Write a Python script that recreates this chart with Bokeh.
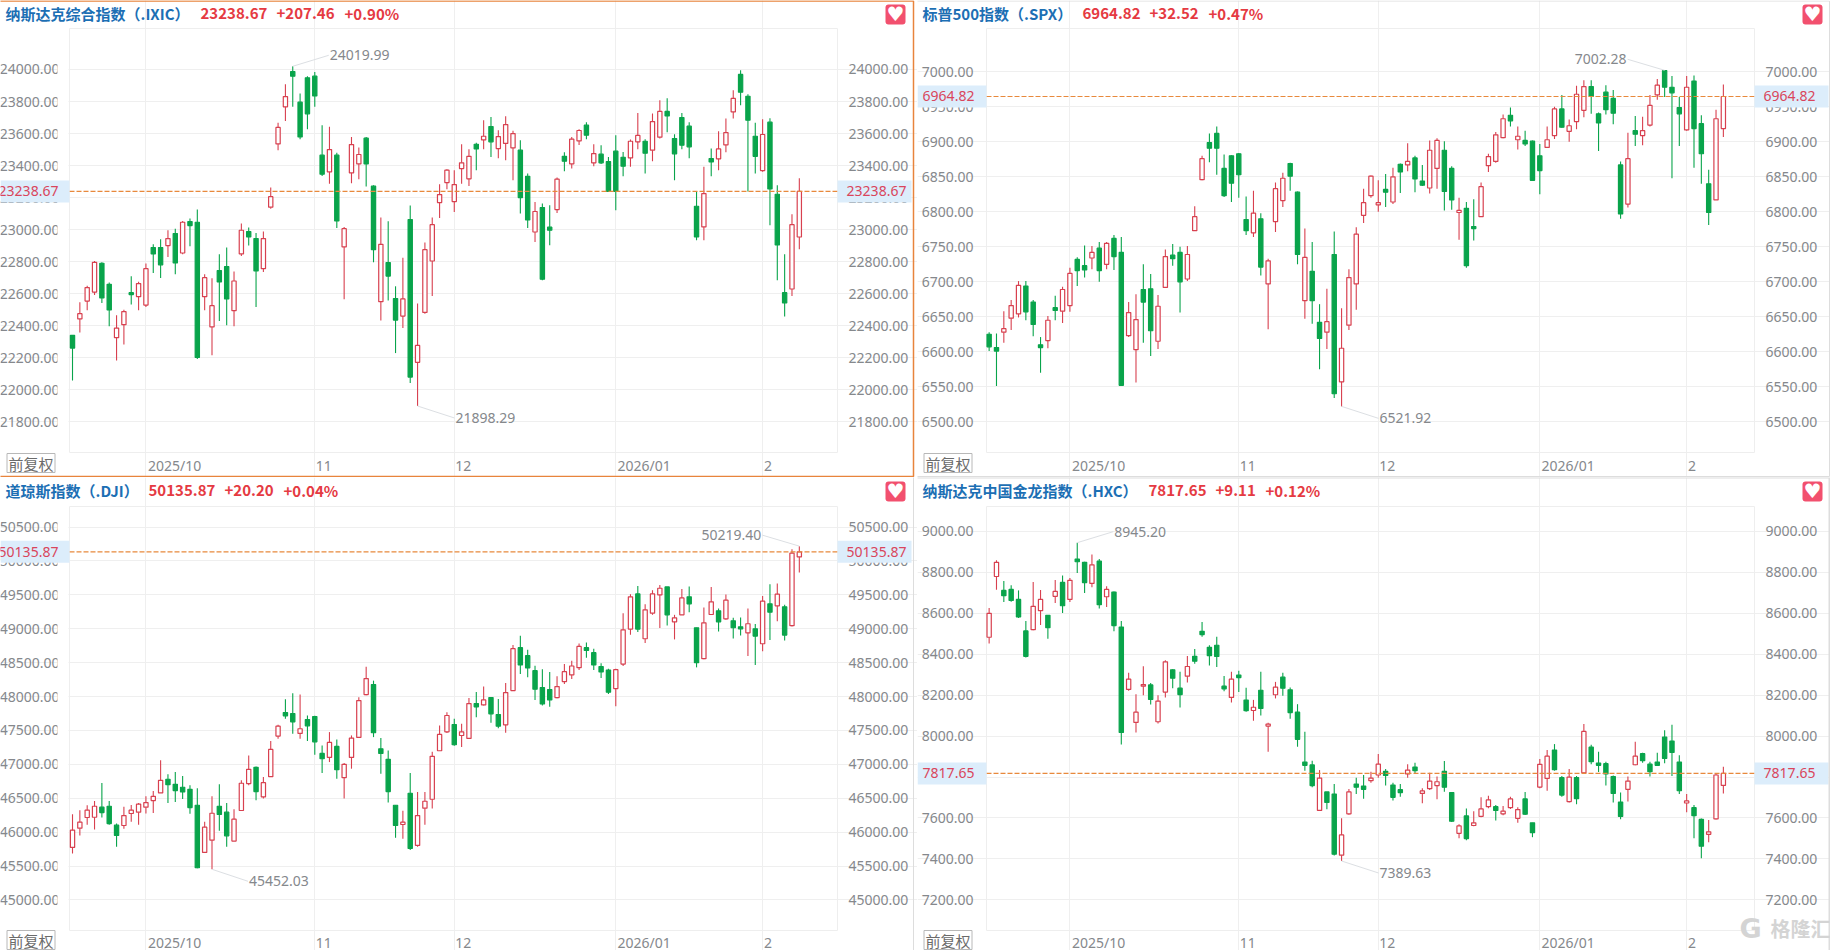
from bokeh.core.properties import value
from bokeh.embed import file_html
from bokeh.resources import INLINE
from bokeh.layouts import column, row
from bokeh.models import (BoxAnnotation, ColumnDataSource, FixedTicker, Label, LinearAxis,
                          PrintfTickFormatter, Range1d)
from bokeh.plotting import figure

# ---------- IXIC ----------
ixic_open = [22340,22442,22554,22610,22790,22658,22325,22406,22606,22581,
22529,22888,22888,22900,22975,22854,23050,23046,22581,22392,
22744,22769,22494,22848,22988,22944,22756,23140,23535,23767,
23987,23796,23948,23958,23465,23360,23465,22892,23354,23410,
23571,23271,22550,22794,22569,22460,23063,22171,22483,22804,
23169,23294,23175,23381,23317,23533,23560,23644,23506,23538,
23510,23496,23333,22985,23138,23015,23125,23458,23410,23554,
23652,23417,23471,23425,23490,23452,23448,23548,23552,23496,
23577,23738,23569,23700,23646,23146,23017,23444,23442,23529,
23735,23969,23833,23583,23369,23671,23221,22606,22629,22954]
ixic_close = [22260,22475,22638,22796,22573,22498,22385,22488,22594,22663,
22756,22848,22780,22944,22792,23046,23025,22202,22700,22525,
22673,22567,22679,22996,22954,22742,22944,23206,23638,23831,
23958,23579,23723,23835,23346,23500,23054,23006,23531,23469,
23410,22875,22908,22710,22435,22567,22079,22277,22875,23031,
23219,23371,23281,23417,23458,23504,23583,23548,23581,23656,
23600,23200,23060,23113,22690,22996,23315,23427,23565,23619,
23590,23475,23417,23238,23238,23396,23552,23588,23477,23675,
23738,23710,23473,23527,23517,22954,23225,23423,23504,23606,
23819,23858,23683,23458,23594,23254,22904,22542,23031,23238.67]
ixic_high = [22342,22546,22650,22804,22796,22670,22465,22500,22708,22675,
22788,22908,22940,22996,23006,23054,23069,23125,22721,22696,
22846,22888,22738,23038,23013,22979,22988,23263,23667,23908,
24019.99,23850,23958,23985,23652,23642,23480,23017,23579,23513,
23579,23277,23075,23052,22646,22825,23150,22538,22919,23075,
23283,23377,23371,23533,23502,23542,23683,23704,23621,23708,
23617,23558,23350,23173,23163,23152,23325,23483,23579,23627,
23671,23533,23527,23454,23590,23485,23563,23729,23565,23725,
23808,23821,23596,23729,23671,23238,23392,23506,23615,23694,
23871,23996,23846,23667,23690,23696,23277,22846,23096,23321]
ixic_low = [22058,22358,22496,22592,22542,22396,22183,22283,22533,22496,
22517,22729,22698,22829,22721,22846,22896,22192,22496,22215,
22429,22402,22396,22835,22900,22517,22735,23131,23496,23679,
23767,23565,23627,23767,23335,23287,23010,22565,23290,23315,
23269,22796,22433,22558,22229,22385,22042,21898.29,22475,22585,
23073,23252,23110,23287,23273,23371,23502,23454,23446,23433,
23308,23100,23010,22923,22683,22902,23104,23365,23381,23529,
23565,23396,23410,23238,23121,23333,23392,23502,23350,23427,
23569,23608,23308,23502,23446,22933,22933,23333,23371,23483,
23694,23777,23238,23350,23362,23027,22683,22458,22585,22877]
ixic_ticks = [21800,22000,22200,22400,22600,22800,23000,23200,23400,23600,23800,24000]

# ---------- SPX ----------
spx_open = [6625,6606,6628,6648,6654,6694,6671,6610,6616,6663,
6658,6666,6732,6723,6734,6748,6725,6762,6742,6623,
6603,6689,6690,6615,6692,6738,6742,6704,6773,6846,
6899,6912,6862,6880,6883,6789,6770,6790,6697,6786,
6816,6869,6828,6673,6715,6642,6628,6739,6557,6638,
6697,6795,6823,6810,6832,6814,6868,6867,6877,6844,
6834,6862,6888,6862,6799,6805,6779,6793,6866,6872,
6906,6938,6903,6902,6901,6880,6892,6909,6947,6915,
6929,6945,6979,6940,6971,6962,6867,6811,6916,6909,
6924,6967,7002,6978,6949,6917,6987,6926,6840,6817,
6919]
spx_close = [6607,6601,6633,6666,6695,6657,6639,6606,6645,6659,
6689,6712,6716,6717,6742,6716,6755,6736,6552,6656,
6646,6671,6630,6665,6736,6733,6700,6739,6793,6876,
6891,6891,6823,6841,6853,6773,6798,6721,6730,6833,
6848,6851,6739,6735,6673,6619,6643,6540,6605,6706,
6768,6813,6851,6813,6828,6850,6857,6872,6847,6838,
6888,6902,6829,6817,6802,6723,6776,6836,6879,6910,
6933,6930,6908,6897,6845,6859,6903,6947,6921,6923,
6968,6979,6965,6927,6946,6941,6797,6876,6911,6916,
6952,6981,6978,6970,6940,6978,6919,6883,6799,6933,
6964.82]
spx_high = [6628,6626,6658,6674,6701,6701,6674,6621,6651,6680,
6693,6720,6735,6752,6751,6757,6757,6767,6764,6671,
6682,6725,6711,6681,6746,6754,6750,6751,6808,6880,
6912,6922,6882,6881,6884,6822,6830,6798,6733,6842,
6856,6870,6829,6776,6757,6668,6690,6772,6662,6718,
6778,6833,6852,6845,6854,6863,6869,6898,6880,6867,
6902,6905,6901,6865,6820,6814,6818,6842,6883,6914,
6939,6949,6922,6916,6902,6897,6922,6950,6967,6932,
6980,6988,6988,6942,6981,6974,6872,6913,6937,6936,
6967,6990,7002.28,6994,6964,6994,6995,6938,6860,6946,
6982]
spx_low = [6601,6551,6613,6631,6649,6645,6622,6570,6605,6645,
6641,6657,6694,6706,6718,6700,6718,6717,6551,6621,
6556,6613,6594,6604,6692,6723,6656,6701,6773,6845,
6871,6853,6821,6814,6820,6767,6764,6709,6632,6771,
6807,6830,6725,6647,6640,6575,6604,6534,6521.92,6631,
6660,6784,6820,6800,6807,6811,6827,6858,6828,6837,
6826,6833,6802,6803,6760,6720,6759,6793,6857,6870,
6905,6922,6889,6894,6844,6825,6892,6904,6920,6900,
6918,6935,6940,6887,6939,6925,6790,6806,6894,6895,
6922,6960,6964,6848,6894,6916,6863,6840,6781,6817,
6907]
spx_ticks = [6500,6550,6600,6650,6700,6750,6800,6850,6900,6950,7000]

# ---------- DJI ----------
dji_open = [45775,46059,46216,46220,46368,46382,46103,46098,46275,46294,
46368,46466,46578,46780,46706,46662,46632,46397,45701,45882,
46382,46294,45868,46319,46716,46956,46520,46819,47417,47765,
47750,47456,47662,47706,47162,47103,47265,46804,47103,47397,
48029,48177,47230,47074,46397,46113,46574,45804,46353,46485,
47201,47480,47588,47426,47382,47897,47877,47985,47735,47583,
48088,48721,48603,48382,48132,48103,47985,48221,48319,48426,
48721,48647,48442,48392,48118,48480,48995,49515,48853,49230,
49500,49618,49103,49206,49471,49015,48559,49211,49265,49147,
49118,49029,48941,49000,48779,49368,49338,49324,49046,50060]
dji_close = [46029,46147,46324,46382,46289,46127,45951,46245,46324,46412,
46436,46529,46765,46701,46613,46593,46363,45475,46074,46279,
46260,45946,46191,46721,46926,46598,46730,47221,47564,47716,
47627,47525,47569,47333,47083,47323,46922,47000,47387,47941,
48265,47466,47162,46598,46098,46147,45760,46245,46456,47118,
47441,47721,47289,47480,47897,47848,47951,47745,47564,48059,
48706,48466,48422,48108,47892,47951,48147,48367,48451,48740,
48681,48466,48363,48064,48397,48985,49471,48995,49279,49515,
49598,49206,49162,49456,49368,48500,49088,49397,49103,49422,
49015,49000,49074,48892,49407,49245,49510,48907,50115.67,50135.87]
dji_high = [46265,46324,46397,46461,46726,46461,46127,46373,46402,46431,
46529,46608,47059,46853,46887,46828,46691,46647,46152,46529,
46706,46431,46338,46765,47132,46970,46814,47343,47583,47961,
48049,48029,47721,47716,47279,47476,47368,47020,47427,47990,
48441,48235,47387,47206,46397,46314,46873,46593,46593,47186,
47574,47770,47672,47598,47980,48069,48147,47985,47966,48201,
48760,48897,48691,48456,48402,48363,48299,48480,48529,48784,
48799,48706,48490,48412,48412,49230,49510,49632,49363,49569,
49647,49618,49206,49588,49623,49015,49314,49618,49299,49505,
49162,49167,49299,49069,49485,49657,49667,49353,50173,50219.40]
dji_low = [45686,45951,46108,46039,46216,46108,45784,46049,46152,46108,
46275,46284,46578,46431,46446,46490,46270,45466,45701,45452.03,
46020,45784,45868,46319,46691,46471,46495,46819,47378,47672,
47451,47378,47343,47142,46873,47034,46789,46495,46936,47397,
48020,47402,46863,46436,45917,45902,45735,45784,46108,46348,
47201,47461,47275,47255,47378,47696,47868,47613,47534,47466,
48088,48333,48284,47951,47868,47848,47975,48186,48260,48392,
48574,48392,48275,48039,47858,48451,48912,48951,48789,49206,
49010,49049,48843,49206,49245,48431,48549,49206,48961,49132,
48858,48902,48598,48466,48667,48833,49113,48828,49034,49830]
dji_ticks = [45000,45500,46000,46500,47000,47500,48000,48500,49000,49500,50000,50500]

# ---------- HXC ----------
hxc_open = [8483,8780,8712,8717,8668,8514,8520,8613,8590,8683,
8751,8668,8865,8849,8746,8855,8681,8704,8533,8228,
8067,8244,8250,8070,8215,8324,8234,8293,8390,8512,
8434,8444,8244,8189,8298,8176,8125,8224,8049,8202,
8288,8226,8117,7873,7859,7637,7727,7717,7418,7620,
7766,7756,7782,7810,7828,7761,7738,7815,7849,7720,
7743,7758,7828,7724,7525,7610,7563,7608,7655,7655,
7620,7650,7598,7693,7576,7751,7793,7932,7797,7680,
7797,7821,7946,7868,7865,7802,7678,7740,7860,7914,
7863,7873,7995,7976,7873,7673,7650,7593,7520,7595,
7759]
hxc_close = [8600,8849,8686,8663,8582,8390,8634,8668,8530,8707,
8637,8761,8852,8750,8837,8642,8717,8540,8018,8278,
8117,8252,8179,8171,8363,8283,8203,8340,8366,8496,
8393,8389,8231,8278,8286,8124,8141,8135,8059,8239,
8234,8115,7984,7857,7758,7795,7676,7423,7517,7727,
7750,7740,7795,7863,7808,7701,7724,7834,7831,7732,
7780,7777,7750,7584,7561,7499,7576,7644,7688,7637,
7633,7693,7641,7618,7528,7862,7902,7836,7712,7800,
7694,8023,7875,7857,7815,7720,7607,7780,7902,7880,
7826,7857,7891,7920,7733,7683,7611,7462,7532,7810,
7817.65]
hxc_high = [8626,8859,8758,8737,8712,8563,8753,8714,8590,8763,
8785,8772,8945.20,8852,8888,8865,8732,8707,8563,8309,
8205,8341,8260,8200,8371,8327,8314,8392,8426,8558,
8444,8485,8294,8314,8319,8236,8177,8314,8065,8265,
8309,8237,8156,8021,7880,7834,7727,7766,7598,7741,
7797,7810,7826,7912,7839,7772,7766,7863,7870,7745,
7821,7802,7878,7724,7569,7646,7633,7701,7709,7663,
7659,7704,7652,7727,7576,7888,7932,7961,7805,7839,
7805,8059,7958,7924,7875,7807,7724,7802,7972,7919,
7875,7919,8029,8055,7907,7717,7663,7597,7590,7820,
7850]
hxc_low = [8452,8715,8655,8657,8577,8384,8517,8543,8476,8650,
8602,8655,8797,8699,8728,8623,8631,8512,7959,8221,
8018,8200,8154,8062,8189,8234,8140,8262,8354,8485,
8345,8338,8219,8164,8216,8119,8075,8101,7924,8184,
8197,8085,7948,7831,7750,7634,7642,7416,7389.63,7616,
7717,7694,7772,7797,7759,7685,7704,7797,7815,7672,
7737,7691,7728,7580,7501,7491,7559,7603,7647,7587,
7613,7644,7577,7615,7506,7745,7733,7831,7704,7676,
7667,7818,7863,7824,7759,7676,7594,7680,7857,7870,
7802,7854,7867,7805,7717,7628,7501,7403,7481,7592,
7720]
hxc_ticks = [7200,7400,7600,7800,8000,8200,8400,8600,8800,9000]

month_labels = ["2025/10", "11", "12", "2026/01", "2"]
months_100 = [10, 33, 52, 74, 94]   # first trading day of each month, 100-day panels
months_101 = [11, 34, 53, 75, 95]   # same, 101-day panels

RED, GREEN = "#d8404f", "#09a44b"
AXIS_TXT = "#85888c"
FONT = "Noto Sans"
CJK = "Noto Sans CJK SC"
FW, FH = 768, 424
LEFT = 69


def canvas_box(p, l, r, t, b, **kw):
    kw.setdefault("line_alpha", 1)
    box = BoxAnnotation(left=l, right=r, top=t, bottom=b, left_units="canvas", right_units="canvas",
                        top_units="canvas", bottom_units="canvas", **kw)
    p.add_layout(box)
    return box


def canvas_label(p, x, y, text, **kw):
    kw.setdefault("text_font", CJK)
    kw.setdefault("text_baseline", "middle")
    lab = Label(x=x, y=y, x_units="canvas", y_units="canvas", text=text, **kw)
    p.add_layout(lab)
    return lab


def panel(opens, highs, lows, closes, ticks, months, ylim, xlim, name, texts, text_x, hi, lo,
          w, h, top, bottom, clip_left, standoff, xstandoff, tag_text_x):
    n = len(opens)
    xpp = (xlim[1] - xlim[0]) / FW
    ypp = (ylim[1] - ylim[0]) / FH
    # the frame fills the whole figure; the plot area is bounded by fixed axes and grid bounds
    p = figure(width=w, height=h, output_backend="svg", toolbar_location=None,
               x_range=Range1d(xlim[0] - LEFT * xpp, xlim[0] + (w - LEFT) * xpp),
               y_range=Range1d(ylim[0] - bottom * ypp, ylim[1] + top * ypp),
               min_border=0, outline_line_color=None, background_fill_color="white", border_fill_color="white")

    # grids
    p.ygrid.ticker = FixedTicker(ticks=ticks)
    p.ygrid.grid_line_color = "#efefef"
    p.ygrid.bounds = (xlim[0], xlim[1])

    # axes
    def style(ax, standoff_):
        ax.ticker = FixedTicker(ticks=ticks)
        ax.formatter = PrintfTickFormatter(format="%.2f")
        ax.axis_line_color = None
        ax.major_tick_line_color = None
        ax.minor_tick_line_color = None
        ax.major_tick_in = 0
        ax.major_tick_out = 0
        ax.major_label_text_color = AXIS_TXT
        ax.major_label_text_font = FONT
        ax.major_label_text_font_size = "14px"
        ax.major_label_standoff = standoff_
    style(p.yaxis[0], standoff)
    p.yaxis[0].fixed_location = xlim[0]
    right = LinearAxis(fixed_location=xlim[1])
    style(right, 11)
    p.add_layout(right, "right")

    xax = p.xaxis[0]
    shift_px = {"2025/10": 28.7, "11": 9, "12": 9, "2026/01": 28.3, "2": 5.3}
    pos = [m + shift_px[t] * xpp for m, t in zip(months, month_labels)]
    xax.ticker = FixedTicker(ticks=pos)
    xax.major_label_overrides = {a: t for a, t in zip(pos, month_labels)}
    xax.fixed_location = ylim[0]
    xax.axis_line_color = None
    xax.major_tick_line_color = None
    xax.minor_tick_line_color = None
    xax.major_tick_in = 0
    xax.major_tick_out = 0
    xax.major_label_text_color = AXIS_TXT
    xax.major_label_text_font = FONT
    xax.major_label_text_font_size = "14px"
    xax.major_label_standoff = xstandoff
    p.xgrid.ticker = FixedTicker(ticks=months)
    p.xgrid.grid_line_color = "#efefef"
    p.xgrid.bounds = (ylim[0] + 3.5 * ypp, ylim[1] - 3 * ypp)

    # plot-area outline
    p.add_layout(BoxAnnotation(left=xlim[0], right=xlim[1], bottom=ylim[0], top=ylim[1], fill_alpha=0,
                               line_color="#eeeeee", line_alpha=1, line_width=1, level="underlay"))

    # candles
    xs = list(range(n))
    up = [c >= o for o, c in zip(opens, closes)]
    src = ColumnDataSource(dict(
        x=xs, high=highs, low=lows,
        top=[max(o, c) for o, c in zip(opens, closes)],
        bottom=[min(o, c) for o, c in zip(opens, closes)],
        fill=["#ffffff" if u else GREEN for u in up],
        line=[RED if u else GREEN for u in up],
    ))
    p.segment("x", "high", "x", "low", source=src, line_color="line", line_width=1.1)
    p.vbar("x", top="top", bottom="bottom", width=0.58, fill_color="fill", line_color="line",
           line_width=1.2, source=src)

    # last-price line
    last = closes[-1]
    p.segment([xlim[0]], [last], [xlim[1]], [last], line_color="#e8893c", line_width=1.2, line_dash=value([5, 2]))

    # extreme labels with leader lines
    for (i, val, dx, dy, align, txt) in (hi, lo):
        p.segment([i], [val], [i + dx * xpp], [val + dy * ypp], line_color="#dcdfe3", line_width=1)
        gap = 1 if align == "left" else -1
        p.add_layout(Label(x=i, y=val, x_offset=dx + gap, y_offset=dy, text=txt, text_align=align,
                           text_baseline="middle", text_color=AXIS_TXT, text_font=FONT,
                           text_font_size="14px"))

    # clipped left tick labels
    if clip_left:
        canvas_box(p, 57, 68, top, top + FH, fill_color="white", fill_alpha=1, line_color=None, level="annotation")

    # last-price tags
    pts = 11 * ypp
    for l, r in ((0, LEFT), (LEFT + FW, 911)):
        p.add_layout(BoxAnnotation(left=l, right=r, left_units="canvas", right_units="canvas",
                                   top=last + pts, bottom=last - pts,
                                   fill_color="#dcedfb", fill_alpha=1, line_color=None, level="annotation"))
    fmt = texts[0]
    for tx in tag_text_x:
        p.add_layout(Label(x=tx, x_units="canvas", y=last, text=fmt, text_align="center",
                           text_baseline="middle", text_color="#d9455c", text_font=FONT,
                           text_font_size="14px", level="overlay"))

    # header
    canvas_label(p, 5, 13, name, text_color="#1c6fb4", text_font_size="15px", text_font_style="bold")
    for t, tx in zip(texts, text_x):
        canvas_label(p, tx, 13, t, text_color="#e53a42", text_font_size="15px", text_font_style="bold")

    # heart button
    canvas_box(p, 885, 905, 4, 24, fill_color="#f2506e", fill_alpha=1, line_color=None, border_radius=3)
    canvas_label(p, 895, 13.5, "\u2665", text_align="center", text_color="white", text_font="DejaVu Sans",
                 text_font_size="20px")

    # adjust button
    canvas_box(p, 6.5, 54.5, 453, 472, fill_color="white", fill_alpha=1, line_color="#b8b8b8", line_width=1)
    canvas_label(p, 30.5, 462.5, "\u524d\u590d\u6743", text_align="center", text_color="#6b6b6b",
                 text_font_size="15px")
    return p


p1 = panel(ixic_open, ixic_high, ixic_low, ixic_close, ixic_ticks, months_100, (21608, 24256), (-0.41, 104.2),
           "纳斯达克综合指数（.IXIC）", ["23238.67", "+207.46", "+0.90%"], [200, 276, 344],
           (30, 24019.99, 36, 11, "left", "24019.99"), (47, 21898.29, 37, -12, "left", "21898.29"),
           917, 477, 28, 25, True, 10, 3, (28, 876))
p2 = panel(spx_open, spx_high, spx_low, spx_close, spx_ticks, months_101, (6456, 7062), (-0.36, 104.24),
           "标普500指数（.SPX）", ["6964.82", "+32.52", "+0.47%"], [165, 232, 291],
           (92, 7002.28, -37, 11, "right", "7002.28"), (48, 6521.92, 37, -12, "left", "6521.92"),
           913, 477, 28, 25, False, 13, 3, (31, 872))
p3 = panel(dji_open, dji_high, dji_low, dji_close, dji_ticks, months_100, (44549, 50804), (-0.41, 104.2),
           "道琼斯指数（.DJI）", ["50135.87", "+20.20", "+0.04%"], [148, 224, 283],
           (99, 50219.40, -37, 11, "right", "50219.40"), (19, 45452.03, 36, -12, "left", "45452.03"),
           917, 473, 29, 20, True, 10, 2, (28, 876))
p4 = panel(hxc_open, hxc_high, hxc_low, hxc_close, hxc_ticks, months_101, (7050, 9122), (-0.36, 104.24),
           "纳斯达克中国金龙指数（.HXC）", ["7817.65", "+9.11", "+0.12%"], [231, 298, 348],
           (12, 8945.20, 36, 11, "left", "8945.20"), (48, 7389.63, 37, -12, "left", "7389.63"),
           913, 473, 29, 20, False, 13, 2, (31, 872))

# panel frames
canvas_box(p1, -5, 913, 0.5, 476, fill_alpha=0, line_color="#e8843c", line_width=1.5)
canvas_box(p2, -5, 912, 0.5, 476, fill_alpha=0, line_color="#dddddd", line_width=1)
canvas_box(p3, -5, 913, -5, 480, fill_alpha=0, line_color="#dddddd", line_width=1)
canvas_box(p4, -5, 912, 0, 480, fill_alpha=0, line_color="#dddddd", line_width=2)

# watermark
canvas_label(p4, 822, 451, "G", text_color="#d4d4d4", text_font="DejaVu Sans", text_font_style="bold",
             text_font_size="27px")
canvas_label(p4, 853, 451, "格隆汇", text_color="#d4d4d4", text_font_style="bold", text_font_size="20px")

layout = column(row(p1, p2, spacing=0), row(p3, p4, spacing=0), spacing=0,
                styles={"position": "absolute", "left": "0px", "top": "0px"})

open("out.html", "w").write(file_html(layout, INLINE))
